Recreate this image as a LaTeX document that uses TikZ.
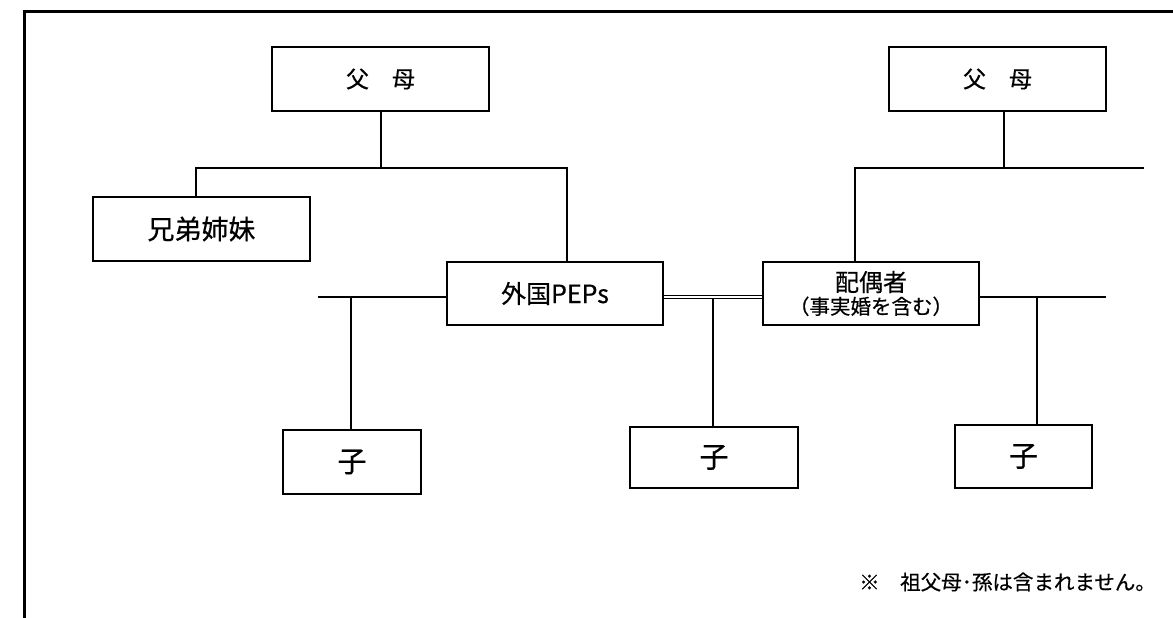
\documentclass[tikz,border=0pt]{standalone}
\usepackage{fontspec}
\setmainfont{Noto Sans CJK JP}[FakeBold=0.5]
\begin{document}
\begin{tikzpicture}[x=1pt,y=-1pt,
  box/.style={draw, line width=2.6pt, inner sep=0pt, align=center},
  conn/.style={line width=2pt},
  marr/.style={double, line width=1.1pt, double distance=2.6pt},
  fparent/.style={font=\fontsize{23pt}{26pt}\selectfont},
  fbig/.style={font=\fontsize{27pt}{30pt}\selectfont},
  fchild/.style={font=\fontsize{29pt}{32pt}\selectfont},
  fspouse/.style={font=\fontsize{24pt}{23pt}\selectfont},
  fnote/.style={font=\fontsize{20.5pt}{24pt}\selectfont}]
\useasboundingbox (0,0) rectangle (1173,618);
\draw[line width=3pt] (24,620) -- (24,12) -- (1175,12);

% boxes
\node[box, fparent, minimum width=217pt, minimum height=64pt] (P1) at (380.5,79) {父　母};
\node[box, fbig, minimum width=217pt, minimum height=64pt] (Sib) at (201.5,229) {兄弟姉妹};
\node[box, font=\fontsize{25pt}{28pt}\selectfont, minimum width=216pt, minimum height=63pt] (PEP) at (555,293.5) {外国PEPs};
\node[box, fspouse, minimum width=216pt, minimum height=63pt] (Sp) at (871,293.5)
  {配偶者\\{\fontsize{20.5pt}{23pt}\selectfont （事実婚を含む）}};
\node[box, fparent, minimum width=217pt, minimum height=64pt] (P2) at (997.5,79) {父　母};
\node[box, fchild, minimum width=138pt, minimum height=64pt] (C1) at (352,462) {子};
\node[box, fchild, minimum width=168pt, minimum height=61pt] (C2) at (714,457.5) {子};
\node[box, fchild, minimum width=137pt, minimum height=63pt] (C3) at (1023.5,456.5) {子};

% junction points
\coordinate (aL) at (196,168);
\coordinate (aM) at (380.5,168);
\coordinate (aR) at (567,168);
\coordinate (bL) at (855,168);
\coordinate (bM) at (1004,168);
\coordinate (bR) at (1144,168);
\coordinate (cL) at (318,297);
\coordinate (cM) at (351,297);
\coordinate (dM) at (713,299);
\coordinate (eM) at (1037,297);
\coordinate (eR) at (1106,297);

% left family
\draw[conn] (P1.south) -- (aM);
\draw[conn] (Sib.north -| aL) -- (aL) -- (aR) -- (aR |- PEP.north);
% right family
\draw[conn] (P2.south -| bM) -- (bM);
\draw[conn] (bR) -- (bL) -- (bL |- Sp.north);
% marriage
\draw[marr] ([yshift=-3.5pt]PEP.east) -- ([yshift=-3.5pt]Sp.west);
% children
\draw[conn] (cL) -- (PEP.west |- cL);
\draw[conn] (cM) -- (C1.north -| cM);
\draw[conn] (dM) -- (C2.north -| dM);
\draw[conn] (Sp.east |- eR) -- (eR);
\draw[conn] (eM) -- (C3.north -| eM);

% note
\node[fnote, anchor=west, inner sep=0pt] (note) at (859,582) {※　祖父母･孫は含まれません。};
\end{tikzpicture}
\end{document}
